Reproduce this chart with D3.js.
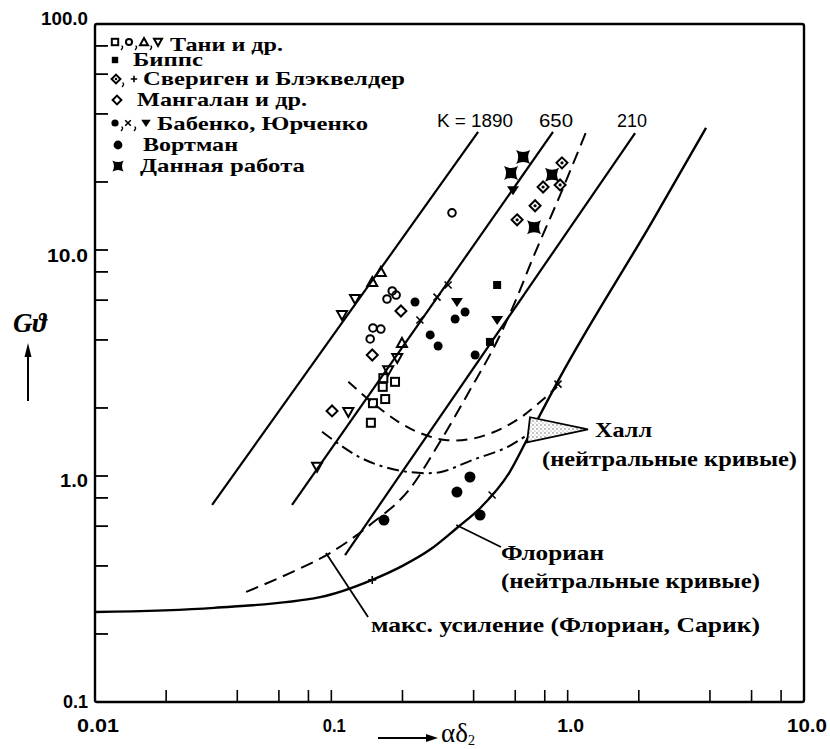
<!DOCTYPE html>
<html><head><meta charset="utf-8">
<script src="https://cdn.jsdelivr.net/npm/d3@7"></script>
<style>body{margin:0;background:#fff}svg{display:block}</style>
</head><body>
<svg id="c" width="830" height="749"></svg>
<script>
// ---------- DATA ----------
const xTickValues = [0.01, 0.1, 1, 10];
const xTickLabels = ["0.01", "0.1", "1.0", "10.0"];
const yTickValues = [0.1, 1, 10, 100];
const yTickLabels = ["0.1", "1.0", "10.0", "100.0"];

const kLabels = ["K = 1890", "650", "210"];
const kLine1890 = [[0.0313, 0.745], [0.418, 33.3]];
const kLine650  = [[0.0682, 0.745], [0.867, 33.3]];
const kLine210  = [[0.1143, 0.447], [1.928, 32.9]];

const florianCurve = [[0.01,0.25],[0.0319,0.261],[0.0896,0.291],[0.149,0.347],[0.20,0.40],[0.26,0.47],
  [0.340,0.589],[0.426,0.72],[0.565,1.03],[0.673,1.45],[0.929,2.74],[2.30,13.6],[3.85,34.7]];
const maxAmpCurve = [[0.0436,0.307],[0.0668,0.372],[0.0987,0.456],[0.149,0.619],[0.213,0.867],
  [0.291,1.44],[0.386,2.40],[0.518,4.21],[0.611,6.19],[0.707,9.03],[0.929,17.5],[1.197,33.3]];
const hallUpper = [[0.118,2.61],[0.150,2.10],[0.195,1.72],[0.237,1.55],[0.309,1.44],[0.426,1.49],[0.611,1.77],[0.902,2.48]];
const hallLower = [[0.0914,1.57],[0.106,1.40],[0.132,1.21],[0.166,1.10],[0.215,1.04],[0.288,1.04],[0.398,1.18],[0.554,1.34],[0.693,1.55]];

// Tani et al.
const taniSquares = [[0.166,2.71],[0.186,2.61],[0.165,2.48],[0.150,2.10],[0.169,2.19],[0.147,1.72]];
const taniCircles = [[0.150,4.52],[0.162,4.47],[0.146,4.04],[0.181,6.59],[0.188,6.32],[0.172,6.07],[0.324,14.6]];
const taniTriUp   = [[0.149,7.21],[0.162,8.0],[0.199,3.88]];
const taniTriDown = [[0.111,5.16],[0.126,6.07],[0.087,1.10],[0.174,2.94],[0.190,3.33],[0.118,1.92]];
// Bipps
const bippsSquares = [[0.503,7.0],[0.469,3.92]];
// Sverigen & Blackwelder
const sverDiamonds = [[0.946,24.3],[0.787,19.0],[0.929,19.4],[0.611,13.6],[0.728,15.7]];
const sverPlus = [[0.149,0.347]];
// Mangalan et al.
const mangDiamonds = [[0.1007,1.94],[0.149,3.43],[0.197,5.37]];
// Babenko, Yurchenko
const babDots = [[0.226,5.89],[0.262,4.21],[0.283,3.76],[0.334,4.95],[0.368,5.32],[0.406,3.43]];
const babCross = [[0.237,4.90],[0.280,6.19],[0.312,7.00],[0.479,0.824],[0.91,2.55]];
const babTri = [[0.340,5.89],[0.503,4.90],[0.587,18.4]];
// Wortmann
const wortDots = [[0.386,0.99],[0.340,0.849],[0.426,0.672],[0.167,0.638]];
// This work
const thisWork = [[0.648,25.8],[0.576,21.9],[0.859,21.5],[0.721,12.6]];

const legendLabels = ["Тани и др.", "Биппс", "Свериген и Блэквелдер", "Мангалан и др.",
  "Бабенко, Юрченко", "Вортман", "Данная работа"];
const hallLabel = ["Халл", "(нейтральные кривые)"];
const florianLabel = ["Флориан", "(нейтральные кривые)"];
const maxAmpLabel = "макс. усиление (Флориан, Сарик)";

const florianLeader = [[0.338,0.607],[0.522,0.485]];
const maxAmpLeader = [[0.0949,0.456],[0.143,0.238]];
const hallWedge = [[0.693,1.82],[0.673,1.41],[1.22,1.61]];

// ---------- CHART ----------
const svg = d3.select("#c");
const x = d3.scaleLog().domain([0.01, 10]).range([95, 804]);
const y = d3.scaleLog().domain([0.1, 100]).range([702, 24]);
const SERIF = "'Liberation Serif','Times New Roman',serif";
const SANS = "'Liberation Sans',Arial,sans-serif";

const defs = svg.append("defs");
const pat = defs.append("pattern").attr("id","stip").attr("width",4).attr("height",4).attr("patternUnits","userSpaceOnUse");
pat.append("rect").attr("width",4).attr("height",4).attr("fill","#fff");
pat.append("circle").attr("cx",1).attr("cy",1).attr("r",0.7).attr("fill","#555");
pat.append("circle").attr("cx",3).attr("cy",3).attr("r",0.6).attr("fill","#888");

// frame
svg.append("rect").attr("x", x(0.01)).attr("y", y(100))
  .attr("width", x(10)-x(0.01)).attr("height", y(0.1)-y(100))
  .attr("fill","none").attr("stroke","#000").attr("stroke-width",2.4).attr("rx",2);

// ticks
const minor = v => { const m = Math.round(v / Math.pow(10, Math.floor(Math.log10(v)+1e-9))); return [1,2,4,6,8].includes(m); };
const xt = x.ticks(30).filter(minor).filter(v => v > 0.0101 && v < 9.99);
svg.append("g").selectAll("line").data(xt).join("line")
  .attr("x1", d=>x(d)).attr("x2", d=>x(d)).attr("y1", y(0.1)).attr("y2", y(0.1)-12)
  .attr("stroke","#000").attr("stroke-width",1.6);
const yt = y.ticks(30).filter(minor).filter(v => v > 0.101 && v < 99.9);
svg.append("g").selectAll("line").data(yt).join("line")
  .attr("x1", x(0.01)).attr("x2", x(0.01)+13).attr("y1", d=>y(d)).attr("y2", d=>y(d))
  .attr("stroke","#000").attr("stroke-width",1.8);

// tick labels
const xLW = [42, 23, 27, 40];
svg.append("g").selectAll("text").data(xTickValues).join("text")
  .attr("x", d=>x(d)+3).attr("y", 732).attr("text-anchor","middle")
  .attr("font-family", SANS).attr("font-weight","bold").attr("font-size",18)
  .attr("textLength",(d,i)=>xLW[i]).attr("lengthAdjust","spacingAndGlyphs")
  .text((d,i)=>xTickLabels[i]);
const yLW = [25, 28, 41, 47];
const yOff = [6, 11, 12, 1];
svg.append("g").selectAll("text").data(yTickValues).join("text")
  .attr("x", 88).attr("y", (d,i)=>y(d)+yOff[i]).attr("text-anchor","end")
  .attr("font-family", SANS).attr("font-weight","bold").attr("font-size",18)
  .attr("textLength",(d,i)=>yLW[i]).attr("lengthAdjust","spacingAndGlyphs")
  .text((d,i)=>yTickLabels[i]);

// axis titles
svg.append("text").attr("x",13).attr("y",332).attr("font-family",SERIF).attr("font-style","italic")
  .attr("font-weight","bold").attr("font-size",27).text("Gϑ");
svg.append("line").attr("x1",28).attr("x2",28).attr("y1",401).attr("y2",352).attr("stroke","#000").attr("stroke-width",2);
svg.append("path").attr("d","M28,343 L24.5,357 L31.5,357 Z").attr("fill","#000");
svg.append("line").attr("x1",378).attr("x2",430).attr("y1",738).attr("y2",738).attr("stroke","#000").attr("stroke-width",2);
svg.append("path").attr("d","M438,738 L426,734 L426,742 Z").attr("fill","#000");
const xt2 = svg.append("text").attr("x",441).attr("y",742).attr("font-family",SERIF).attr("font-size",27);
xt2.append("tspan").text("αδ");
xt2.append("tspan").attr("font-size",14).attr("dy",3).text("2");

// lines
const lin = d3.line().x(d=>x(d[0])).y(d=>y(d[1]));
const crv = d3.line().x(d=>x(d[0])).y(d=>y(d[1])).curve(d3.curveMonotoneX);
[kLine1890, kLine650, kLine210].forEach(l => svg.append("path").attr("d", lin(l))
  .attr("fill","none").attr("stroke","#000").attr("stroke-width",2.2));
svg.append("path").attr("d", crv(florianCurve)).attr("fill","none").attr("stroke","#000").attr("stroke-width",2.4);
svg.append("path").attr("d", crv(maxAmpCurve)).attr("fill","none").attr("stroke","#000").attr("stroke-width",2)
  .attr("stroke-dasharray","13,7");
const crvC = d3.line().x(d=>x(d[0])).y(d=>y(d[1])).curve(d3.curveCatmullRom.alpha(0.5));
svg.append("path").attr("d", crvC(hallUpper)).attr("fill","none").attr("stroke","#000").attr("stroke-width",2)
  .attr("stroke-dasharray","11,7");
svg.append("path").attr("d", crvC(hallLower)).attr("fill","none").attr("stroke","#000").attr("stroke-width",2)
  .attr("stroke-dasharray","12,5,3,5");

// K labels
const kPos = [[437,127,76],[539,127,34],[617,127,30]];
svg.append("g").selectAll("text").data(kLabels).join("text")
  .attr("x",(d,i)=>kPos[i][0]).attr("y",(d,i)=>kPos[i][1])
  .attr("font-family",SANS).attr("font-size",18)
  .attr("textLength",(d,i)=>kPos[i][2]).attr("lengthAdjust","spacingAndGlyphs").text(d=>d);

// annotations
svg.append("path").attr("d", lin(hallWedge)+"Z").attr("fill","url(#stip)").attr("stroke","#000").attr("stroke-width",1.8);
svg.append("path").attr("d", lin(florianLeader)).attr("stroke","#000").attr("stroke-width",1.8);
svg.append("path").attr("d", lin(maxAmpLeader)).attr("stroke","#000").attr("stroke-width",1.8);
function label(txt, px, py, w, fs) {
  svg.append("text").attr("x",px).attr("y",py).attr("font-family",SERIF).attr("font-weight","bold")
    .attr("font-size",fs||21).attr("textLength",w).attr("lengthAdjust","spacingAndGlyphs").text(txt);
}
label(hallLabel[0], 595, 437, 57);
label(hallLabel[1], 542, 466, 255);
label(florianLabel[0], 501, 560, 103);
label(florianLabel[1], 501, 588, 259);
label(maxAmpLabel, 371, 632, 389);

// markers
function drawSym(g, type, cx, cy, s) {
  s = s || 1;
  const st = {stroke:"#000", "stroke-width":2, fill:"none"};
  const ap = (el, o) => { Object.entries(o).forEach(([k,v])=>el.attr(k,v)); return el; };
  if (type==="sq") ap(g.append("rect").attr("x",cx-4*s).attr("y",cy-4*s).attr("width",8*s).attr("height",8*s), st);
  else if (type==="circ") ap(g.append("circle").attr("cx",cx).attr("cy",cy).attr("r",3.8*s), st);
  else if (type==="triU") ap(g.append("path").attr("d",`M${cx},${cy-5*s}L${cx+5*s},${cy+4*s}L${cx-5*s},${cy+4*s}Z`), st);
  else if (type==="triD") ap(g.append("path").attr("d",`M${cx},${cy+5*s}L${cx+5*s},${cy-4*s}L${cx-5*s},${cy-4*s}Z`), st);
  else if (type==="sqF") g.append("rect").attr("x",cx-4*s).attr("y",cy-4*s).attr("width",8*s).attr("height",8*s).attr("fill","#000");
  else if (type==="dm" || type==="dmDot") {
    ap(g.append("path").attr("d",`M${cx},${cy-5.5*s}L${cx+5.5*s},${cy}L${cx},${cy+5.5*s}L${cx-5.5*s},${cy}Z`), st);
    if (type==="dmDot") g.append("circle").attr("cx",cx).attr("cy",cy).attr("r",1.6*s).attr("fill","#000");
  }
  else if (type==="plus") { ap(g.append("path").attr("d",`M${cx-4*s},${cy}H${cx+4*s}M${cx},${cy-4*s}V${cy+4*s}`), {stroke:"#000","stroke-width":1.6}); }
  else if (type==="cross") { ap(g.append("path").attr("d",`M${cx-3.5*s},${cy-3.5*s}L${cx+3.5*s},${cy+3.5*s}M${cx+3.5*s},${cy-3.5*s}L${cx-3.5*s},${cy+3.5*s}`), {stroke:"#000","stroke-width":1.6}); }
  else if (type==="triF") g.append("path").attr("d",`M${cx},${cy+5*s}L${cx+6*s},${cy-4*s}L${cx-6*s},${cy-4*s}Z`).attr("fill","#000");
  else if (type==="dotS") g.append("circle").attr("cx",cx).attr("cy",cy).attr("r",4.5*s).attr("fill","#000");
  else if (type==="dotL") g.append("circle").attr("cx",cx).attr("cy",cy).attr("r",5.5*s).attr("fill","#000");
  else if (type==="star") g.append("path").attr("d",
    `M${cx-7*s},${cy-7*s}Q${cx},${cy-3*s} ${cx+7*s},${cy-7*s}Q${cx+3*s},${cy} ${cx+7*s},${cy+7*s}Q${cx},${cy+3*s} ${cx-7*s},${cy+7*s}Q${cx-3*s},${cy} ${cx-7*s},${cy-7*s}Z`).attr("fill","#000");
}
const series = [
  {d: taniSquares, t:"sq"}, {d: taniCircles, t:"circ"}, {d: taniTriUp, t:"triU"}, {d: taniTriDown, t:"triD"},
  {d: bippsSquares, t:"sqF"}, {d: sverDiamonds, t:"dmDot"}, {d: sverPlus, t:"plus"}, {d: mangDiamonds, t:"dm"},
  {d: babDots, t:"dotS"}, {d: babCross, t:"cross"}, {d: babTri, t:"triF"}, {d: wortDots, t:"dotL"}, {d: thisWork, t:"star"}
];
const mg = svg.append("g");
series.forEach(s => s.d.forEach(p => drawSym(mg, s.t, x(p[0]), y(p[1]))));

// legend
const lg = svg.append("g");
const lrows = [
  {syms:[["sq",115],["circ",129],["triU",144],["triD",158]], sy:42, tx:170, by:51, w:113},
  {syms:[["sqF",115]], sy:60, tx:133, by:66, w:70},
  {syms:[["dmDot",116],["plus",134]], sy:79, tx:143, by:85, w:262},
  {syms:[["dm",117]], sy:100, tx:137, by:106, w:170},
  {syms:[["dotS",115],["cross",128],["triF",146]], sy:123, tx:157, by:130, w:211},
  {syms:[["dotL",118]], sy:145, tx:143, by:151, w:95},
  {syms:[["star",118]], sy:166, tx:140, by:172, w:165}
];
lrows.forEach((r,i) => {
  r.syms.forEach((s,j) => {
    drawSym(lg, s[0], s[1], r.sy, 0.8);
    if (j < r.syms.length-1) {
      const cx = s[1] + 6.5, cy = r.sy + 4;
      lg.append("path").attr("d", `M${cx},${cy} q1.2,0 1,1.6 q-0.3,1.4 -1.6,2.2`)
        .attr("fill","none").attr("stroke","#000").attr("stroke-width",1.4);
    }
  });
  lg.append("text").attr("x", r.tx).attr("y", r.by).attr("font-family",SERIF).attr("font-weight","bold")
    .attr("font-size",19).attr("textLength",r.w).attr("lengthAdjust","spacingAndGlyphs").text(legendLabels[i]);
});
</script>
</body></html>
